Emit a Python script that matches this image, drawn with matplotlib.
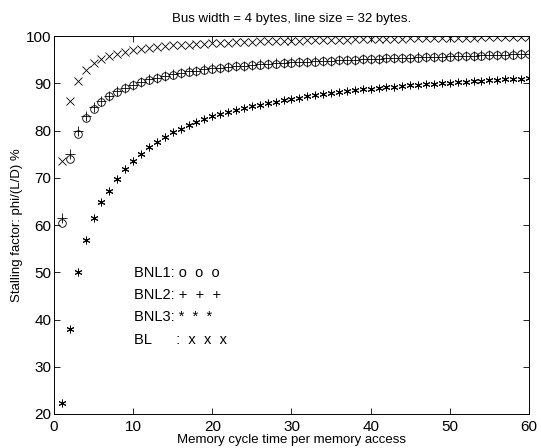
import numpy as np
import matplotlib
matplotlib.use("Agg")
import matplotlib.pyplot as plt

plt.rcParams['font.family'] = ['Liberation Sans', 'DejaVu Sans']

cycle_time = list(range(1, 61))

bl = [73.6, 86.2, 90.5, 92.8, 94.2, 95.1, 95.8, 96.3, 96.7, 97.0,
      97.3, 97.5, 97.7, 97.9, 98.0, 98.1, 98.2, 98.3, 98.4, 98.5,
      98.55, 98.6, 98.7, 98.75, 98.8, 98.85, 98.9, 98.95, 99.0, 99.0,
      99.05, 99.1, 99.1, 99.15, 99.2, 99.2, 99.25, 99.3, 99.3, 99.35,
      99.4, 99.4, 99.45, 99.45, 99.5, 99.5, 99.55, 99.55, 99.6, 99.6,
      99.6, 99.65, 99.65, 99.7, 99.7, 99.7, 99.75, 99.75, 99.8, 99.8]

bnl2 = [61.5, 75.0, 80.0, 83.0, 84.9, 86.3, 87.4, 88.3, 89.1, 89.7,
        90.3, 90.8, 91.2, 91.6, 91.9, 92.2, 92.5, 92.7, 92.95, 93.15,
        93.3, 93.45, 93.6, 93.75, 93.9, 94.0, 94.1, 94.2, 94.3, 94.4,
        94.5, 94.55, 94.65, 94.75, 94.8, 94.9, 94.95, 95.0, 95.1, 95.15,
        95.2, 95.3, 95.35, 95.4, 95.45, 95.5, 95.55, 95.6, 95.65, 95.7,
        95.75, 95.8, 95.85, 95.9, 95.95, 96.0, 96.05, 96.1, 96.15, 96.2]

bnl1 = [60.5, 74.0, 79.2, 82.6, 84.6, 86.1, 87.3, 88.2, 89.0, 89.6,
        90.2, 90.7, 91.1, 91.5, 91.85, 92.15, 92.45, 92.65, 92.9, 93.1,
        93.25, 93.4, 93.55, 93.7, 93.85, 93.95, 94.05, 94.15, 94.25, 94.35,
        94.45, 94.5, 94.6, 94.7, 94.75, 94.85, 94.9, 94.95, 95.05, 95.1,
        95.15, 95.25, 95.3, 95.35, 95.4, 95.45, 95.5, 95.55, 95.6, 95.65,
        95.7, 95.75, 95.8, 95.85, 95.9, 95.95, 96.0, 96.05, 96.1, 96.15]

bnl3 = [22.3, 38.0, 50.0, 56.8, 61.4, 64.8, 67.3, 69.7, 71.8, 73.6,
        75.0, 76.6, 77.6, 78.7, 79.6, 80.4, 81.1, 81.8, 82.4, 83.0,
        83.5, 84.0, 84.4, 84.8, 85.2, 85.5, 85.8, 86.1, 86.4, 86.7,
        86.95, 87.2, 87.45, 87.7, 87.9, 88.1, 88.3, 88.5, 88.7, 88.85,
        89.0, 89.15, 89.3, 89.45, 89.6, 89.7, 89.8, 89.9, 90.0, 90.1,
        90.2, 90.3, 90.4, 90.5, 90.6, 90.7, 90.8, 90.9, 91.0, 91.1]

legend_lines = ["BNL1: o  o  o", "BNL2: +  +  +", "BNL3: *  *  *", "BL      :  x  x  x"]
legend_y = [49.8, 45.2, 40.5, 35.7]

fig = plt.figure(figsize=(5.41, 4.48), dpi=100)
ax = fig.add_axes([0.0998, 0.0759, 0.878, 0.8437])

ms = 5.5
mw = 0.6
ax.plot(cycle_time, bl, ls='none', marker='x', ms=ms + 0.5, mew=mw, color='black')
ax.plot(cycle_time, bnl1, ls='none', marker='o', ms=ms, mew=mw, mfc='none', color='black')
ax.plot(cycle_time, bnl2, ls='none', marker='+', ms=ms + 1, mew=mw, color='black')
ax.plot(cycle_time, bnl3, ls='none', marker=(6, 2, 0), ms=ms, mew=mw + 0.1, color='black')

for txt, yy in zip(legend_lines, legend_y):
    ax.text(10.1, yy, txt, fontsize=10.5, va='center', ha='left')

ax.set_xlim(0, 60)
ax.set_ylim(20, 100)
ax.set_xticks([0, 10, 20, 30, 40, 50, 60])
ax.set_yticks([20, 30, 40, 50, 60, 70, 80, 90, 100])
ax.tick_params(direction='in', top=True, right=True, labelsize=11, length=4, width=0.6)
ax.tick_params(axis='x', pad=4)
ax.tick_params(axis='y', pad=2)
for s in ax.spines.values():
    s.set_linewidth(0.7)

ax.set_title("Bus width = 4 bytes, line size = 32 bytes.", fontsize=9.5, pad=10)
ax.set_xlabel("Memory cycle time per memory access", fontsize=9.5, labelpad=0)
ax.set_ylabel("Stalling factor: phi/(L/D) %", fontsize=9.5, labelpad=2)

fig.savefig("out.png", dpi=100)
